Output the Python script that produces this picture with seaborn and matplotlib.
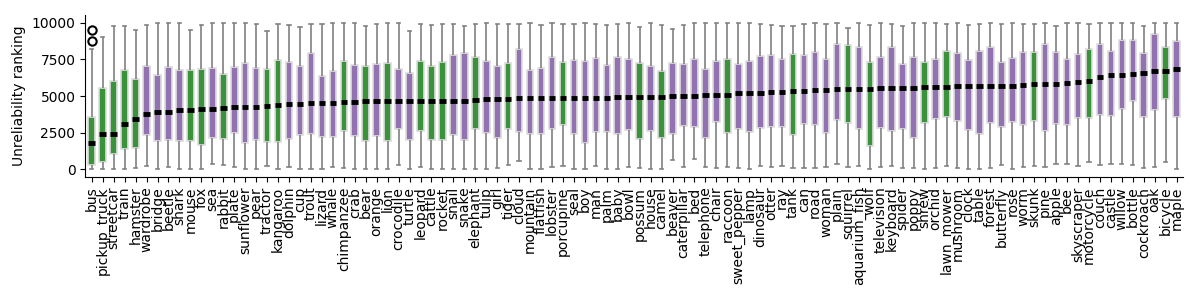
import numpy as np
import pandas as pd
import matplotlib
matplotlib.use("Agg")
import matplotlib.pyplot as plt
import seaborn as sns

categories = ["bus", "pickup_truck", "streetcar", "train", "hamster", "wardrobe", "bridge", "beetle", "shark", "mouse",
              "fox", "sea", "rabbit", "plate", "sunflower", "pear", "tractor", "kangaroo", "dolphin", "cup",
              "trout", "lizard", "whale", "chimpanzee", "crab", "bear", "orange", "lion", "crocodile", "turtle",
              "leopard", "cattle", "rocket", "snail", "snake", "elephant", "tulip", "girl", "tiger", "cloud",
              "mountain", "flatfish", "lobster", "porcupine", "seal", "boy", "man", "palm", "baby", "bowl",
              "possum", "house", "camel", "beaver", "caterpillar", "bed", "telephone", "chair", "raccoon", "sweet_pepper",
              "lamp", "dinosaur", "otter", "ray", "tank", "can", "road", "woman", "plain", "squirrel",
              "aquarium_fish", "wolf", "television", "keyboard", "spider", "poppy", "shrew", "orchid", "lawn_mower", "mushroom",
              "clock", "table", "forest", "butterfly", "rose", "worm", "skunk", "pine", "apple", "bee",
              "skyscraper", "motorcycle", "couch", "castle", "willow", "bottle", "cockroach", "oak", "bicycle", "maple"]

highlighted = ["bus", "pickup_truck", "streetcar", "train", "hamster", "mouse", "fox", "rabbit", "tractor", "kangaroo",
               "chimpanzee", "bear", "lion", "leopard", "cattle", "rocket", "elephant", "tiger", "porcupine", "possum",
               "camel", "raccoon", "tank", "squirrel", "wolf", "shrew", "lawn_mower", "skunk", "motorcycle", "bicycle"]

medians = [1815, 2407, 2407, 3110, 3451, 3792, 3928, 3928, 4024, 4024,
           4092, 4133, 4201, 4269, 4269, 4269, 4338, 4406, 4474, 4474,
           4542, 4542, 4542, 4610, 4610, 4679, 4679, 4679, 4679, 4679,
           4679, 4679, 4679, 4679, 4679, 4747, 4815, 4815, 4815, 4883,
           4883, 4883, 4883, 4883, 4883, 4883, 4883, 4883, 4951, 4951,
           4951, 4951, 4951, 5020, 5020, 5020, 5088, 5088, 5088, 5224,
           5224, 5224, 5292, 5292, 5361, 5361, 5429, 5429, 5497, 5497,
           5497, 5497, 5565, 5565, 5565, 5565, 5633, 5633, 5633, 5702,
           5702, 5702, 5702, 5702, 5702, 5770, 5838, 5838, 5838, 5906,
           5974, 6042, 6315, 6452, 6452, 6520, 6588, 6724, 6724, 6861]

q1 = [270, 520, 1064, 1364, 1432, 2360, 1910, 1978, 1910, 1910,
      1637, 2114, 2046, 2496, 1773, 1978, 1882, 1882, 2046, 2360,
      2428, 2223, 2223, 2633, 2292, 1950, 2292, 1950, 2728, 2019,
      2633, 2019, 2019, 2360, 2019, 2728, 2496, 2155, 2728, 2565,
      2428, 2428, 2728, 3001, 2428, 1815, 2565, 2565, 2428, 2705,
      2046, 2633, 2114, 2428, 2974, 2906, 2114, 3246, 2496, 2769,
      2565, 2837, 2906, 2906, 2360, 3110, 3042, 2496, 3383, 3178,
      2769, 1569, 2837, 2633, 2769, 2155, 3178, 3451, 3587, 3315,
      2705, 2428, 3178, 2906, 3246, 3042, 3315, 2633, 3110, 3042,
      3519, 3519, 3724, 3656, 4133, 4679, 3587, 4065, 4815, 3587]

q3 = [3587, 5524, 6022, 6752, 6138, 7045, 6410, 6956, 6752, 6752,
      6843, 6888, 6479, 6956, 7229, 6888, 6820, 7434, 7297, 7025,
      7932, 6343, 6684, 7366, 7093, 7025, 7161, 7229, 6820, 6547,
      7407, 7025, 7297, 7775, 7952, 7679, 7366, 7025, 7229, 8180,
      6752, 6888, 7638, 7297, 7434, 7366, 7570, 7093, 7638, 7502,
      7229, 7025, 6684, 7229, 7161, 7502, 6820, 7366, 7502, 7161,
      7366, 7707, 7775, 7502, 7843, 7775, 7979, 7502, 8525, 8457,
      8320, 7297, 7638, 8320, 7161, 7638, 7297, 7502, 8048, 7911,
      7434, 8048, 8320, 7297, 7570, 7979, 7979, 8525, 7979, 7502,
      7843, 8225, 8525, 8048, 8798, 8798, 7911, 9207, 8320, 8730]

whisker_low = [0, 0, 0, 0, 70, 225, 0, 177, 0, 0,
               0, 341, 273, 177, 0, 0, 200, 0, 177, 0,
               0, 0, 177, 70, 0, 0, 0, 0, 273, 0,
               177, 0, 0, 0, 0, 0, 0, 70, 273, 546,
               0, 0, 177, 225, 0, 0, 200, 0, 0, 177,
               70, 0, 0, 614, 177, 682, 177, 70, 177, 70,
               0, 225, 177, 225, 70, 70, 70, 177, 341, 177,
               225, 0, 177, 225, 70, 70, 0, 70, 200, 70,
               0, 0, 70, 273, 0, 177, 200, 177, 341, 341,
               225, 477, 273, 341, 341, 273, 70, 177, 477, 0]

whisker_high = [8180, 9043, 9793, 9793, 9500, 9841, 9957, 10000, 9957, 9500,
                9841, 9957, 9957, 9957, 9957, 9900, 9432, 9900, 9841, 9725,
                9900, 9900, 9957, 10000, 10000, 9773, 9900, 9957, 10000, 9412,
                9900, 9820, 9900, 9900, 9750, 9900, 9957, 9900, 9900, 9900,
                9957, 9820, 9957, 9900, 9900, 9957, 9900, 9820, 9900, 9957,
                9682, 9957, 9841, 9548, 9820, 9957, 9957, 9957, 9957, 9957,
                9957, 9900, 9841, 9773, 9773, 9900, 9957, 9900, 10000, 9616,
                9957, 9820, 9957, 9900, 9773, 9957, 10000, 9957, 9900, 9957,
                9841, 9900, 10000, 9900, 9957, 9900, 9900, 9957, 9750, 9957,
                9957, 9900, 9957, 9957, 9957, 9957, 9750, 10000, 9957, 10000]

fliers = {"bus": [8720, 9520]}

# Build a long-form table whose quartiles / whiskers reproduce the read values
rows = []
for i, cat in enumerate(categories):
    vals = [whisker_low[i], q1[i], q1[i], q1[i], medians[i], medians[i], medians[i],
            q3[i], q3[i], q3[i], whisker_high[i]] + fliers.get(cat, [])
    grp = "yes" if cat in highlighted else "no"
    for v in vals:
        rows.append({"category": cat, "ranking": v, "group": grp})
df = pd.DataFrame(rows)

fig = plt.figure(figsize=(12, 3), dpi=100)
ax = fig.add_axes([0.071, 0.41, 0.915, 0.54])

sns.boxplot(data=df, x="category", y="ranking", hue="group", order=categories,
            palette={"yes": "#2ca02c", "no": "#9467bd"}, dodge=False, width=0.6,
            legend=False, ax=ax, linewidth=1.2,
            boxprops=dict(edgecolor="#dddddd"),
            whiskerprops=dict(color="#808080", linewidth=1.2),
            capprops=dict(color="#808080", linewidth=1.2),
            medianprops=dict(color="black", linewidth=3.5),
            flierprops=dict(marker="o", markerfacecolor="none", markeredgecolor="black",
                            markersize=6, markeredgewidth=1.5))

ax.set_ylim(-525, 10525)
ax.set_xlim(-0.6, len(categories) - 0.4)
ax.set_yticks([0, 2500, 5000, 7500, 10000])
ax.set_xlabel("")
ax.set_ylabel("Unreliability ranking", fontsize=10, color="black")
ax.tick_params(axis="x", rotation=90, labelsize=10, colors="black")
ax.tick_params(axis="y", labelsize=10, colors="black")
sns.despine(ax=ax)

fig.savefig("out.png", dpi=100)
